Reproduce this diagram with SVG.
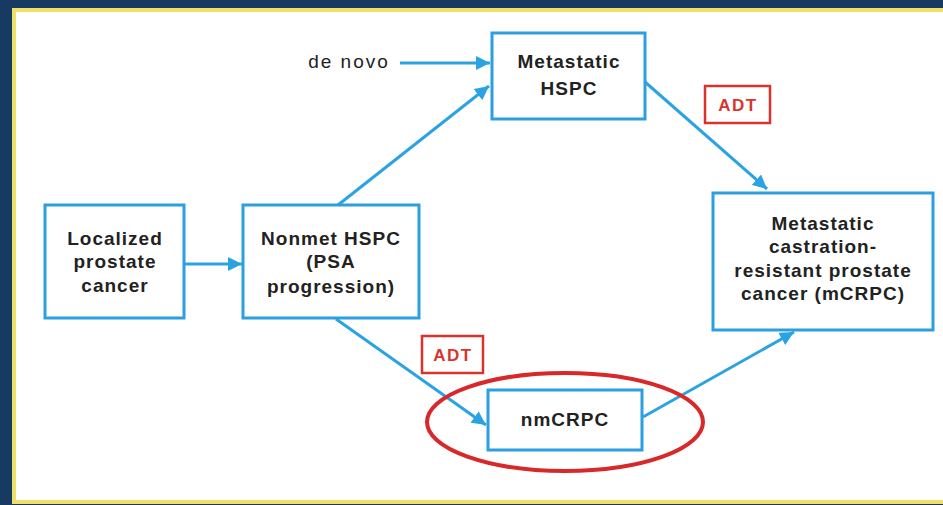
<svg xmlns="http://www.w3.org/2000/svg" width="943" height="505" viewBox="0 0 943 505">
<defs>
<style>
.box{fill:#fff;stroke:#2b9fe0;stroke-width:3}
.lbl{font-family:"Liberation Sans",Arial,sans-serif;font-weight:bold;font-size:19px;fill:#222;text-anchor:middle;letter-spacing:1px}
.conn{stroke:#2ba3e3;stroke-width:3;fill:none;marker-end:url(#ah)}
.adt{fill:#fff;stroke:#d9342c;stroke-width:2.5}
.adtt{font-family:"Liberation Sans",Arial,sans-serif;font-weight:bold;font-size:17px;fill:#d9342c;text-anchor:middle;letter-spacing:1.5px}
</style>
<marker id="ah" markerUnits="userSpaceOnUse" markerWidth="16" markerHeight="14" refX="14" refY="7" orient="auto">
<path d="M0,0 L14,7 L0,14 Z" fill="#2ba3e3"/>
</marker>
</defs>
<rect x="0" y="0" width="943" height="505" fill="#173a63"/>
<rect x="14" y="10" width="940" height="492" fill="#fff" stroke="#efe06a" stroke-width="4"/>

<g id="connectors">
<line class="conn" x1="185" y1="264" x2="242" y2="264"/>
<line class="conn" x1="400" y1="63" x2="490" y2="63"/>
<line class="conn" x1="338" y1="205" x2="489" y2="86"/>
<line class="conn" x1="645" y1="82" x2="767" y2="189"/>
<line class="conn" x1="336" y1="319" x2="486" y2="425"/>
<line class="conn" x1="643" y1="417" x2="794" y2="332"/>
</g>

<g id="localized">
<rect class="box" x="45" y="205" width="139" height="113"/>
<text class="lbl" x="115" y="245">Localized</text>
<text class="lbl" x="115" y="268">prostate</text>
<text class="lbl" x="115" y="292">cancer</text>
</g>

<g id="nonmet">
<rect class="box" x="243" y="205" width="176" height="113"/>
<text class="lbl" x="331" y="245">Nonmet HSPC</text>
<text class="lbl" x="331" y="268">(PSA</text>
<text class="lbl" x="331" y="293">progression)</text>
</g>

<g id="denovo">
<text class="lbl" x="349" y="68" style="font-weight:normal;letter-spacing:2px">de novo</text>
</g>

<g id="mhspc">
<rect class="box" x="492" y="33" width="153" height="86"/>
<text class="lbl" x="569" y="68">Metastatic</text>
<text class="lbl" x="569" y="95">HSPC</text>
</g>

<g id="mcrpc">
<rect class="box" x="713" y="193" width="220" height="137"/>
<text class="lbl" x="823" y="230">Metastatic</text>
<text class="lbl" x="823" y="253">castration-</text>
<text class="lbl" x="823" y="277">resistant prostate</text>
<text class="lbl" x="823" y="300">cancer (mCRPC)</text>
</g>

<g id="nmcrpc">
<rect class="box" x="488" y="390" width="154" height="60"/>
<text class="lbl" x="565" y="426">nmCRPC</text>
</g>

<g id="adt-top">
<rect class="adt" x="705" y="86" width="65" height="37"/>
<text class="adtt" x="738" y="111">ADT</text>
</g>

<g id="adt-bottom">
<rect class="adt" x="422" y="336" width="61" height="37"/>
<text class="adtt" x="453" y="361">ADT</text>
</g>

<g id="highlight">
<ellipse cx="565" cy="422" rx="138" ry="49" fill="none" stroke="#d8282a" stroke-width="4"/>
</g>
</svg>
